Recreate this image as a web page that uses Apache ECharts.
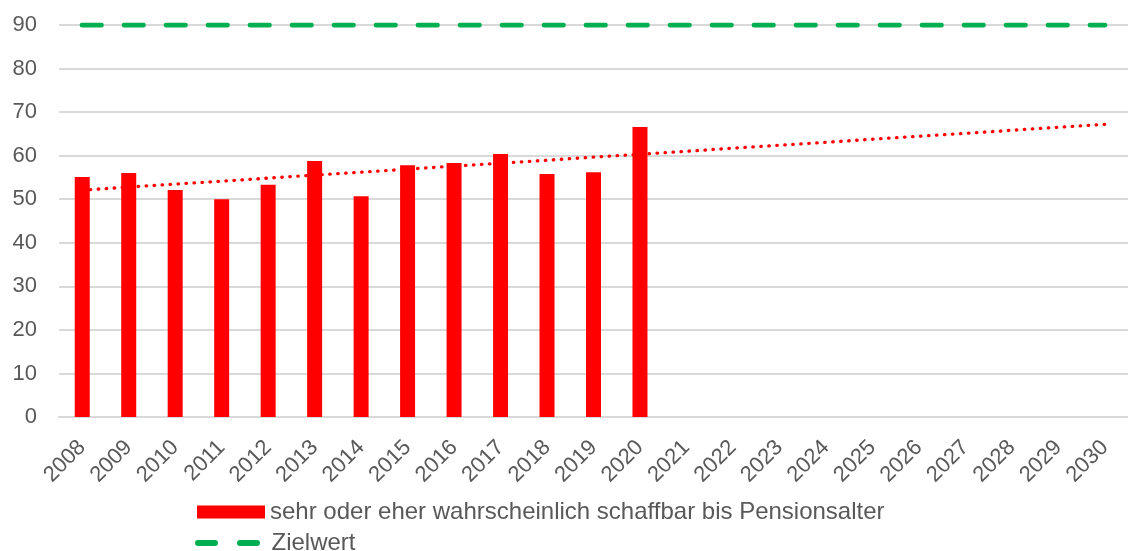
<!DOCTYPE html>
<html lang="de">
<head>
    <meta charset="UTF-8">
    <title>Schaffbar bis Pensionsalter</title>
    <script src="https://cdn.jsdelivr.net/npm/echarts@6/dist/echarts.min.js"></script>
    <style>
        body { margin: 0; padding: 0; background: #fff; overflow: hidden; }
        #chart { width: 1128px; height: 551px; }
    </style>
</head>
<body>
<div id="chart"></div>
<script>
    // Jahre auf der x-Achse
    const years = ['2008', '2009', '2010', '2011', '2012', '2013', '2014', '2015', '2016', '2017', '2018', '2019',
        '2020', '2021', '2022', '2023', '2024', '2025', '2026', '2027', '2028', '2029', '2030'];
    // Anteil "sehr oder eher wahrscheinlich schaffbar"
    const schaffbar = [55.1, 56.0, 52.1, 50.0, 53.3, 58.8, 50.7, 57.8, 58.3, 60.4, 55.8, 56.2, 66.6];
    // Zielwert
    const zielwert = [90, 90, 90, 90, 90, 90, 90, 90, 90, 90, 90, 90, 90, 90, 90, 90, 90, 90, 90, 90, 90, 90, 90];
    // linearer Trend (Start 2008, Ende 2030)
    const trend = [52.1, null, null, null, null, null, null, null, null, null, null, null,
        null, null, null, null, null, null, null, null, null, null, 67.2];
    const yTicks = [0, 90, 10];

    const chart = echarts.init(document.getElementById('chart'));
    const textColor = '#595959';
    const font = 'Liberation Sans, Arial, sans-serif';
    // zwei abgerundete Striche als Legendensymbol
    const dashIcon = 'path://M3,0H20A3,3 0 0 1 20,6H3A3,3 0 0 1 3,0Z M45,0H62A3,3 0 0 1 62,6H45A3,3 0 0 1 45,0Z';

    chart.setOption({
        animation: false,
        // die Zeichenfläche reicht rechts etwas über den Rand hinaus (wie im Original)
        grid: { left: 59, right: -12, top: 25, bottom: 134 },
        legend: [
            {
                left: 192,
                top: 495,
                itemWidth: 68,
                itemHeight: 13,
                textStyle: { color: textColor, fontSize: 24, fontFamily: font },
                data: [{ name: 'sehr oder eher wahrscheinlich schaffbar bis Pensionsalter', icon: 'rect' }]
            },
            {
                left: 190,
                top: 526,
                itemWidth: 68,
                itemHeight: 6,
                textStyle: { color: textColor, fontSize: 24, fontFamily: font, padding: [0, 0, 0, 5] },
                data: [{ name: 'Zielwert', icon: dashIcon }]
            }
        ],
        xAxis: {
            type: 'category',
            data: years,
            axisLine: { lineStyle: { color: '#d9d9d9', width: 2 } },
            axisTick: { show: false },
            axisLabel: {
                color: textColor, fontSize: 22, fontFamily: font,
                rotate: 45, interval: 0, margin: 27
            }
        },
        yAxis: {
            type: 'value',
            min: yTicks[0],
            max: yTicks[1],
            interval: yTicks[2],
            axisLine: { show: false },
            axisTick: { show: false },
            splitLine: { lineStyle: { color: '#d9d9d9', width: 2 } },
            axisLabel: { color: textColor, fontSize: 22, fontFamily: font, margin: 22 }
        },
        series: [
            {
                name: 'sehr oder eher wahrscheinlich schaffbar bis Pensionsalter',
                type: 'bar',
                data: schaffbar,
                barWidth: 15,
                itemStyle: { color: '#ff0000' }
            },
            {
                name: 'Zielwert',
                type: 'line',
                data: zielwert,
                symbol: 'none',
                itemStyle: { color: '#00b050' },
                lineStyle: { color: '#00b050', width: 5, type: [19, 23], cap: 'round' }
            },
            {
                name: 'Trend',
                type: 'line',
                data: trend,
                connectNulls: true,
                symbol: 'none',
                lineStyle: { color: '#ff0000', width: 3.3, type: [0.5, 7.5], cap: 'round' }
            }
        ]
    });
</script>
</body>
</html>
